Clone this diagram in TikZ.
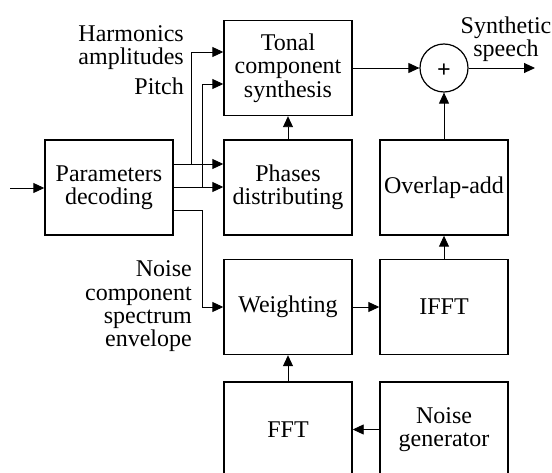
\documentclass[tikz,border=0pt]{standalone}
\usepackage{fontspec}
\setmainfont{Liberation Serif}
\usetikzlibrary{arrows.meta,calc}

\tikzset{
  blk/.style={draw, line width=1.4pt, minimum width=128pt, minimum height=95pt,
    inner sep=0pt, align=center},
  sumnode/.style={draw, line width=1.2pt, circle, minimum size=48pt, inner sep=0pt},
  lbl/.style={align=right, inner sep=0pt},
  conn/.style={line width=0.9pt, -{Triangle[length=11pt,width=10pt]}},
  wire/.style={line width=0.9pt}
}

\begin{document}
\begin{tikzpicture}[x=1pt, y=-1pt, font=\fontsize{24}{23.5}\selectfont]
\useasboundingbox (0,0) rectangle (552,473);

% processing blocks
\node[blk] (pd)  at (109,187.5) {Parameters\\decoding};
\node[blk] (ton) at (288,68)    {Tonal\\component\\synthesis};
\node[blk] (ph)  at (288,187.5) {Phases\\distributing};
\node[blk] (ola) at (444,187.5) {Overlap-add};
\node[blk] (wt)  at (288,307)   {Weighting};
\node[blk] (ifft) at (444,307)  {IFFT};
\node[blk] (fft) at (288,429.5) {FFT};
\node[blk] (ng)  at (444,429.5) {Noise\\generator};

% summing junction
\node[sumnode] (sum) at (444,68) {};
\node[font=\fontsize{24}{24}\selectfont\bfseries] (plus) at (444,71) {+};

% labels (base anchor sits on the last line)
\node[lbl, anchor=base east] (lharm) at (184,65) {Harmonics\\amplitudes};
\node[lbl, anchor=base east] (lpitch) at (184,95) {Pitch};
\node[lbl, anchor=base east] (lnoise) at (192,347) {Noise\\component\\spectrum\\envelope};
\node[align=center, inner sep=0pt, anchor=base] (lout) at (506,57) {Synthetic\\speech};

% free ends
\coordinate (in) at (10,188);
\coordinate (out) at (535,68);

% input
\draw[conn] (in) -- (in -| pd.west);

% decoder outputs
\draw[conn] (pd.east |- 0,164) -- (ph.west |- 0,164);
\draw[conn] (pd.east |- 0,187) -- (ph.west |- 0,187);
\draw[conn] (191,164) -- (191,52) -- (ton.west |- 0,52);
\draw[conn] (202,187) -- (202,84) -- (ton.west |- 0,84);
\draw[conn] (pd.east |- 0,210) -- (202,210) -- (202,307) -- (wt.west);

% signal chain
\draw[conn] (ph.north) -- (ton.south);
\draw[conn] (ton.east) -- (sum.west);
\draw[conn] (ola.north) -- (sum.south);
\draw[conn] (sum.east) -- (out);
\draw[conn] (ifft.north) -- (ola.south);
\draw[conn] (wt.east) -- (ifft.west);
\draw[conn] (fft.north) -- (wt.south);
\draw[conn] (ng.west) -- (fft.east);
\end{tikzpicture}
\end{document}
